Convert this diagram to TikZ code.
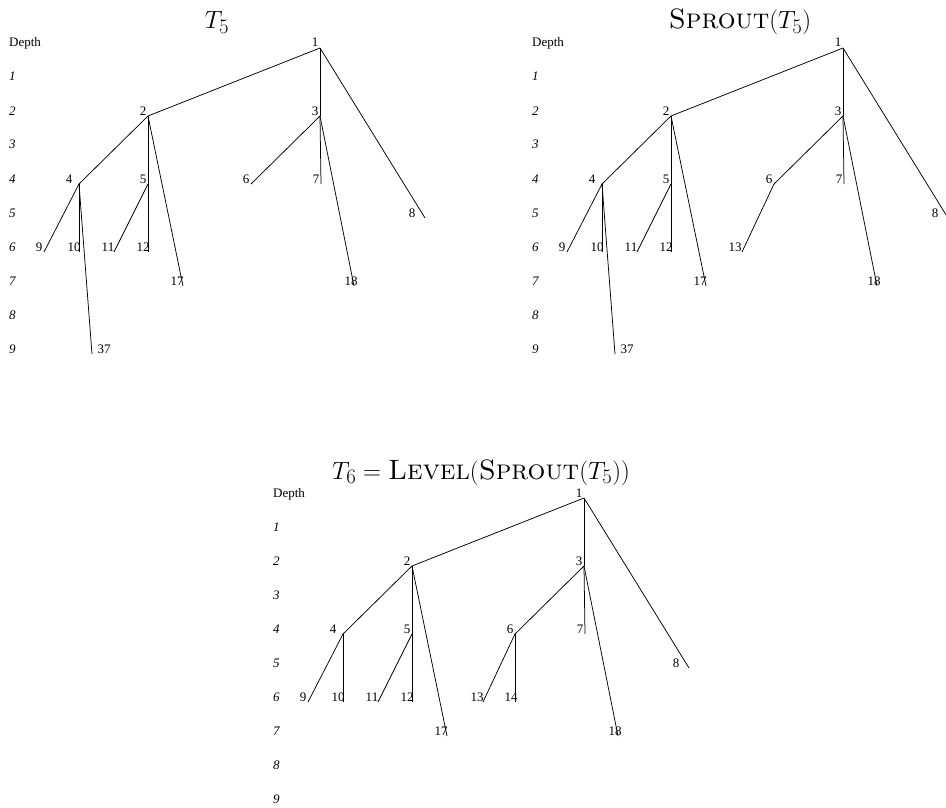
\documentclass[tikz,border=0pt]{standalone}
\usepackage{fontspec}
\newfontfamily\timesfont{Liberation Serif}
\begin{document}
\begin{tikzpicture}[x=1pt,y=-1pt,
  lbl/.style={inner sep=0pt,anchor=base,font=\timesfont\fontsize{13}{15}\selectfont},
  dlbl/.style={inner sep=0pt,anchor=base west,font=\timesfont\fontsize{13}{15}\selectfont},
  ttl/.style={inner sep=0pt,anchor=base,font=\fontsize{28}{34}\selectfont},
  edge/.style={line width=0.75pt,black}]
\useasboundingbox (0,0) rectangle (946,808);
% ---------- common depth column ----------
\newcommand\depthcol[1]{%
  \node[dlbl] (#1dh) at (-311,-1) {Depth};
  \foreach \k in {1,...,9} {\node[dlbl] (#1d\k) at (-311,\k*34-1) {\textit{\k}};}
}
% ---------- common vertices & labels ----------
\newcommand\basetree[1]{%
  \foreach \n/\x/\d/\lx in {1/0/0/-5, 2/-172/2/-177, 3/0/2/-5, 4/-241/4/-251,
     5/-172/4/-177, 7/1/4/-4, 8/105/5/92, 9/-276/6/-281, 10/-241/6/-246,
     11/-206/6/-212, 12/-172/6/-177, 17/-137/7/-143, 18/34/7/31}
  {\coordinate (#1v\n) at (\x,\d*34);
   \node[lbl] (#1l\n) at (\lx,\d*34-1) {\n};}
  \coordinate (#1v6) at (-69,4*34);
  \node[lbl] (#1l6) at (-74,4*34-1) {6};
  \foreach \a/\b in {1/2,1/3,1/8,2/4,2/5,2/17,3/6,3/7,3/18,4/9,4/10,5/11,5/12}
  {\draw[edge] (#1v\a) -- (#1v\b);}
}
% ================= Tree 1 =================
\begin{scope}[shift={(320,48)}]
  \node[ttl] (t1title) at (-103,-19) {$T_5$};
  \depthcol{t1}
  \basetree{t1}
  \coordinate (t1v37) at (-228,9*34);
  \node[lbl] (t1l37) at (-216,9*34-1) {37};
  \draw[edge] (t1v4) -- (t1v37);
\end{scope}
% ================= Tree 2 =================
\begin{scope}[shift={(843,48)}]
  \node[ttl] (t2title) at (-103,-19) {\textsc{Sprout}$(T_5)$};
  \depthcol{t2}
  \basetree{t2}
  \coordinate (t2v13) at (-101,6*34);
  \node[lbl] (t2l13) at (-108,6*34-1) {13};
  \draw[edge] (t2v6) -- (t2v13);
  \coordinate (t2v37) at (-228,9*34);
  \node[lbl] (t2l37) at (-216,9*34-1) {37};
  \draw[edge] (t2v4) -- (t2v37);
\end{scope}
% ================= Tree 3 =================
\begin{scope}[shift={(584,498)}]
  \node[ttl] (t3title) at (-103,-19) {$T_6 = \textsc{Level}(\textsc{Sprout}(T_5))$};
  \depthcol{t3}
  \basetree{t3}
  \coordinate (t3v13) at (-101,6*34);
  \node[lbl] (t3l13) at (-107,6*34-1) {13};
  \draw[edge] (t3v6) -- (t3v13);
  \coordinate (t3v14) at (-69,6*34);
  \node[lbl] (t3l14) at (-73,6*34-1) {14};
  \draw[edge] (t3v6) -- (t3v14);
\end{scope}
\end{tikzpicture}
\end{document}
